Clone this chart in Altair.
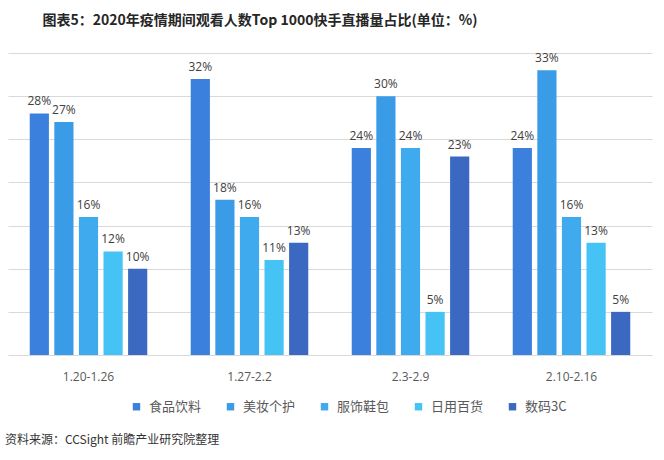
import altair as alt
import pandas as pd

periods = ["1.20-1.26", "1.27-2.2", "2.3-2.9", "2.10-2.16"]
categories = ["食品饮料", "美妆个护", "服饰鞋包", "日用百货", "数码3C"]
food = [28, 32, 24, 24]
beauty = [27, 18, 30, 33]
apparel = [16, 16, 24, 16]
daily = [12, 11, 5, 13]
digital = [10, 13, 23, 5]
colors = ["#3a80dc", "#3a9be6", "#40aaee", "#45c3f5", "#3b68c0"]
title_text = "图表5：2020年疫情期间观看人数Top 1000快手直播量占比(单位：%)"
source_text = "资料来源：CCSight 前瞻产业研究院整理"

series = [food, beauty, apparel, daily, digital]
rows = []
for cat, vals in zip(categories, series):
    for p, v in zip(periods, vals):
        rows.append({"period": p, "category": cat, "value": v})
df = pd.DataFrame(rows)

cjk = "Noto Sans CJK SC"

base = alt.Chart(df).encode(
    x=alt.X("period:N", sort=periods, title=None,
            scale=alt.Scale(paddingInner=0.27, paddingOuter=0.135),
            axis=alt.Axis(labelAngle=0, domain=False, ticks=False, grid=False,
                          labelPadding=16, labelFontSize=12, labelColor="#595959",
                          labelFont="Open Sans")),
    xOffset=alt.XOffset("category:N", sort=categories,
                        scale=alt.Scale(paddingInner=0.22, paddingOuter=0)),
    y=alt.Y("value:Q", title=None,
            scale=alt.Scale(domain=[0, 35], nice=False),
            axis=alt.Axis(values=[0, 5, 10, 15, 20, 25, 30, 35], labels=False,
                          domain=False, ticks=False, grid=True,
                          gridColor="#d9d9d9", gridWidth=1)),
)

bars = base.mark_bar().encode(
    color=alt.Color("category:N", sort=categories,
                    scale=alt.Scale(domain=categories, range=colors),
                    legend=alt.Legend(title=None, orient="none", direction="horizontal",
                                      legendX=122, legendY=347,
                                      symbolType="square", symbolSize=55,
                                      symbolStrokeWidth=0,
                                      labelFont=cjk, labelFontSize=13,
                                      labelColor="#595959", labelOffset=6,
                                      columnPadding=22)),
)

labels = base.mark_text(baseline="bottom", dy=-5, fontSize=12, color="#404040",
                        font="Open Sans").encode(
    text=alt.Text("label:N")
).transform_calculate(label="datum.value + '%'")

source = alt.Chart(pd.DataFrame({"t": [source_text]})).mark_text(
    align="left", baseline="middle", fontSize=12, color="#333333", font=cjk
).encode(x=alt.value(-3), y=alt.value(387), text="t:N")

chart = alt.layer(bars, labels, source).properties(
    width=644, height=302,
    padding={"left": 8, "top": 53, "right": 12, "bottom": 105},
    autosize=alt.AutoSizeParams(type="none"),
    title=alt.Title(title_text, anchor="middle", dx=-70, offset=24,
                    fontSize=14, fontWeight="bold",
                    font="Liberation Sans Narrow, Noto Sans CJK SC",
                    color="#262626"),
).configure_view(stroke=None)

chart.save("out.html", embed_options={"renderer": "svg", "actions": False})
